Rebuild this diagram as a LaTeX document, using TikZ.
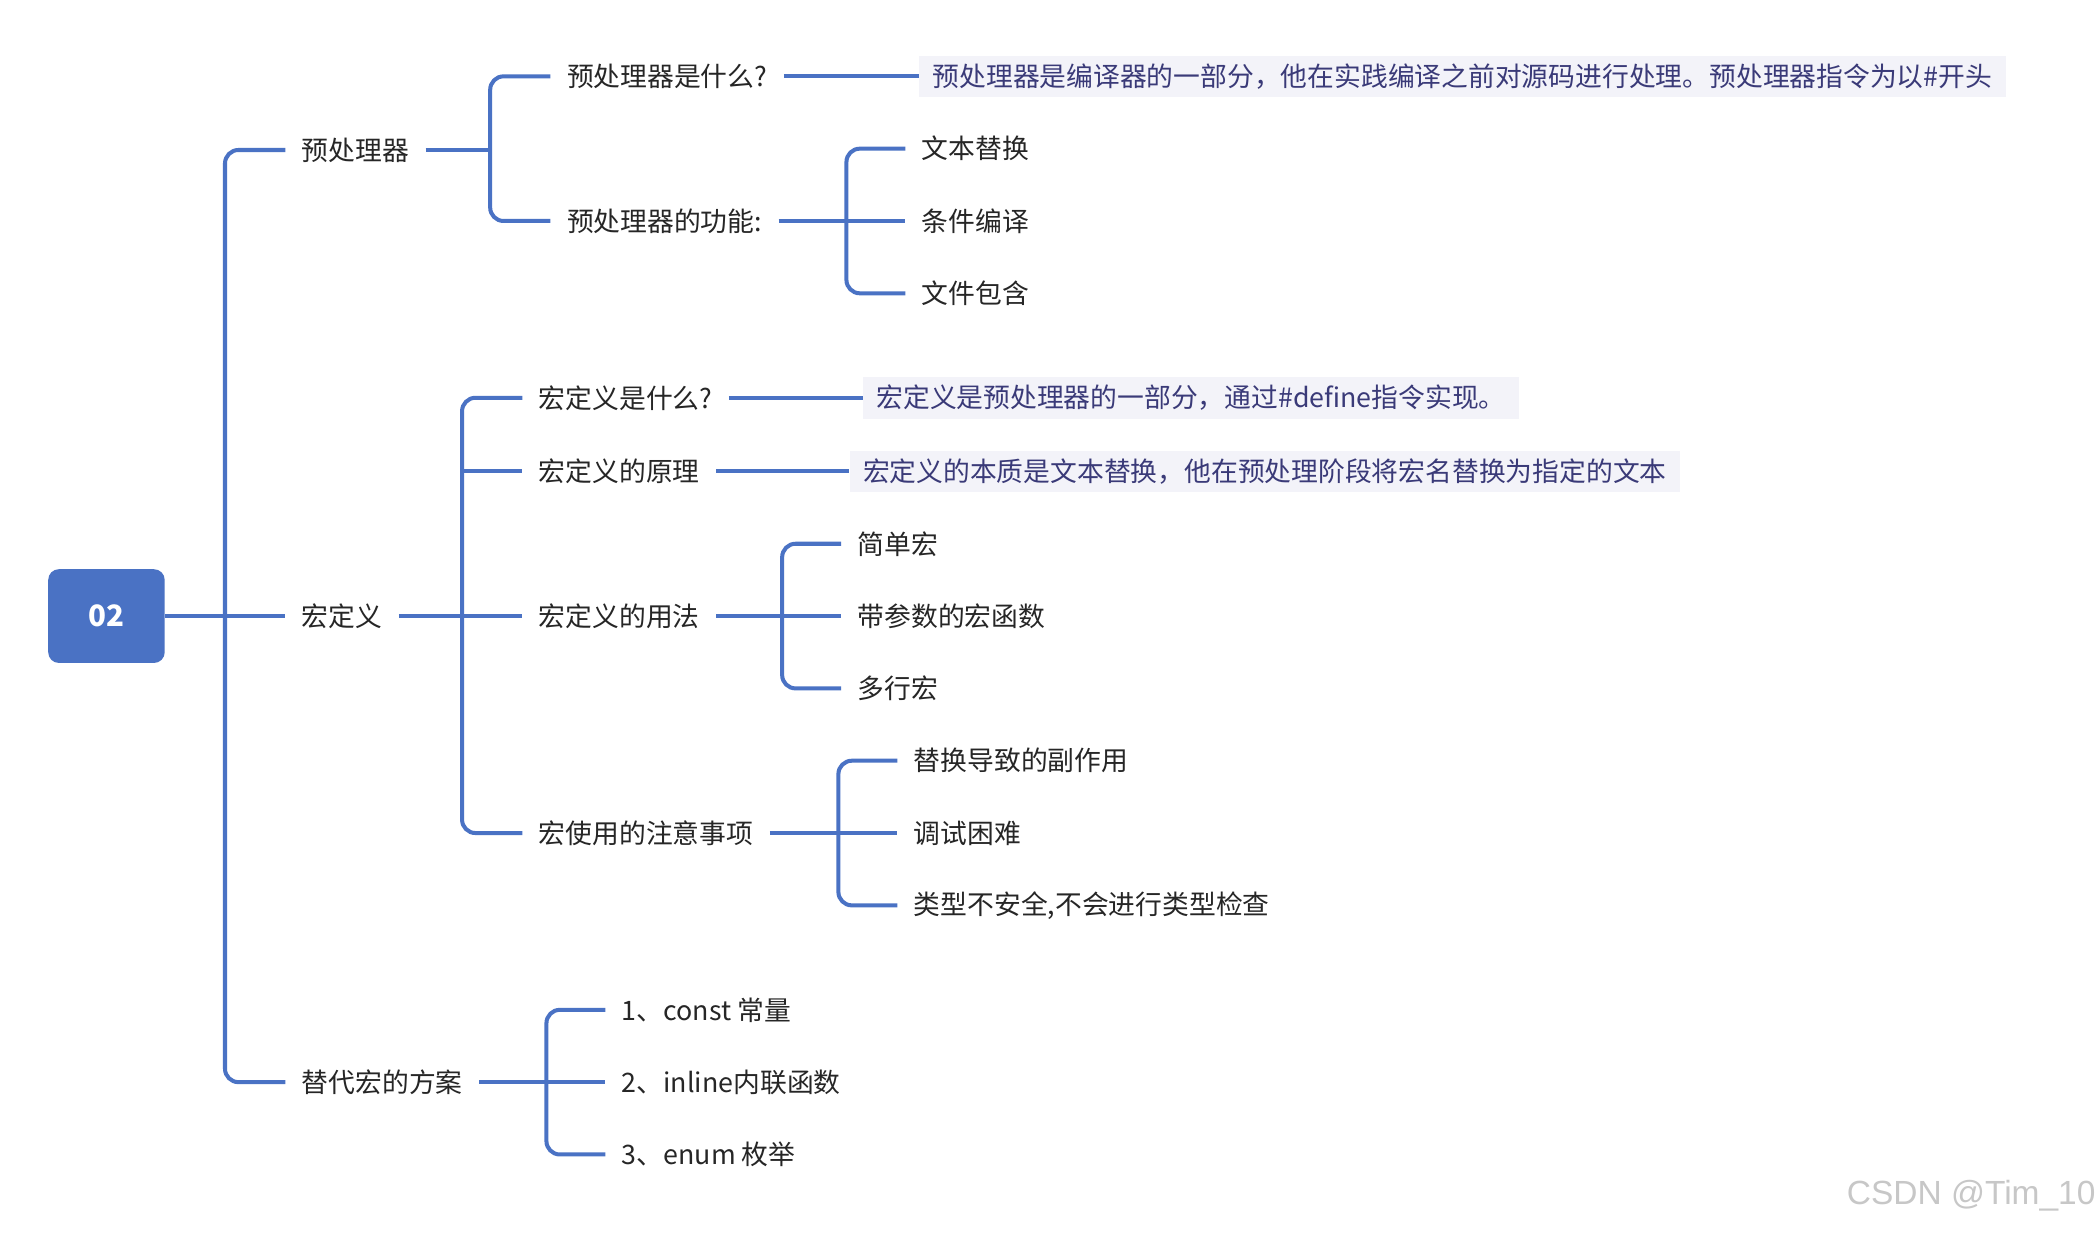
\documentclass[tikz,border=0pt]{standalone}
\usepackage{fontspec}
\setmainfont{Noto Sans CJK SC}
\definecolor{lc}{HTML}{4A72C4}
\definecolor{notebg}{HTML}{F3F3F9}
\definecolor{notetx}{HTML}{3A3A78}
\begin{document}
\begin{tikzpicture}[x=0.5pt,y=-0.5pt,
  conn/.style={draw=lc,line width=1.5pt},
  rc/.style={conn,rounded corners=5pt},
  lab/.style={anchor=west,inner xsep=6pt,inner ysep=2pt,font=\fontsize{10}{12}\selectfont,text=black!85},
  note/.style={lab,fill=notebg,text=notetx,inner xsep=5pt,inner ysep=3pt}]
\useasboundingbox[fill=white] (0,0) rectangle (1568,921);
\node[fill=lc,rounded corners=4pt,minimum width=43.5pt,minimum height=35pt,text=white,font=\fontsize{11}{13}\selectfont\bfseries] (r) at (79.5,460) {02};
% level 1
\node[lab] (a) at (213,112) {预处理器};
\node[lab] (b) at (213,460) {宏定义};
\node[lab] (c) at (213,808) {替代宏的方案};
\coordinate (v0) at (168,0);
\draw[conn] (r.east) -- (v0 |- r.east);
\draw[rc] (a.west) -| (v0 |- c.west) -- (c.west);
\draw[conn] (v0 |- b.west) -- (b.west);
% 预处理器
\node[lab] (a1) at (411,57) {预处理器是什么?};
\node[lab] (a2) at (411,165) {预处理器的功能:};
\coordinate (v1) at (366,0);
\draw[conn] (a.east) -- (v1 |- a.east);
\draw[rc] (a1.west) -| (v1 |- a2.west) -- (a2.west);
\node[note] (n1) at (686,57) {预处理器是编译器的一部分，他在实践编译之前对源码进行处理。预处理器指令为以\#开头};
\draw[conn] (a1.east) -- (n1.west);
\node[lab] (a21) at (676,111) {文本替换};
\node[lab] (a22) at (676,165) {条件编译};
\node[lab] (a23) at (676,219) {文件包含};
\coordinate (v2) at (632,0);
\draw[conn] (a2.east) -- (v2 |- a2.east);
\draw[rc] (a21.west) -| (v2 |- a23.west) -- (a23.west);
\draw[conn] (v2 |- a22.west) -- (a22.west);
% 宏定义
\node[lab] (b1) at (390,297) {宏定义是什么?};
\node[lab] (b2) at (390,352) {宏定义的原理};
\node[lab] (b3) at (390,460) {宏定义的用法};
\node[lab] (b4) at (390,622) {宏使用的注意事项};
\coordinate (v3) at (345,0);
\draw[conn] (b.east) -- (v3 |- b.east);
\draw[rc] (b1.west) -| (v3 |- b4.west) -- (b4.west);
\draw[conn] (v3 |- b2.west) -- (b2.west);
\draw[conn] (v3 |- b3.west) -- (b3.west);
\node[note] (n2) at (644,297) {宏定义是预处理器的一部分，通过\#define指令实现。};
\draw[conn] (b1.east) -- (n2.west);
\node[note] (n3) at (634,352) {宏定义的本质是文本替换，他在预处理阶段将宏名替换为指定的文本};
\draw[conn] (b2.east) -- (n3.west);
\node[lab] (b31) at (628,406) {简单宏};
\node[lab] (b32) at (628,460) {带参数的宏函数};
\node[lab] (b33) at (628,514) {多行宏};
\coordinate (v4) at (584,0);
\draw[conn] (b3.east) -- (v4 |- b3.east);
\draw[rc] (b31.west) -| (v4 |- b33.west) -- (b33.west);
\draw[conn] (v4 |- b32.west) -- (b32.west);
\node[lab] (b41) at (670,568) {替换导致的副作用};
\node[lab] (b42) at (670,622) {调试困难};
\node[lab] (b43) at (670,676) {类型不安全,不会进行类型检查};
\coordinate (v5) at (626,0);
\draw[conn] (b4.east) -- (v5 |- b4.east);
\draw[rc] (b41.west) -| (v5 |- b43.west) -- (b43.west);
\draw[conn] (v5 |- b42.west) -- (b42.west);
% 替代
\node[lab] (c1) at (452,754) {1、const 常量};
\node[lab] (c2) at (452,808) {2、inline内联函数};
\node[lab] (c3) at (452,862) {3、enum 枚举};
\coordinate (v6) at (408,0);
\draw[conn] (c.east) -- (v6 |- c.east);
\draw[rc] (c1.west) -| (v6 |- c3.west) -- (c3.west);
\draw[conn] (v6 |- c2.west) -- (c2.west);
\node[anchor=east,inner sep=0pt,text=black!22,font=\fontsize{12.5}{14}\selectfont\fontspec{Liberation Sans}] (wm) at (1565,893) {CSDN @Tim\_10};
\end{tikzpicture}
\end{document}
